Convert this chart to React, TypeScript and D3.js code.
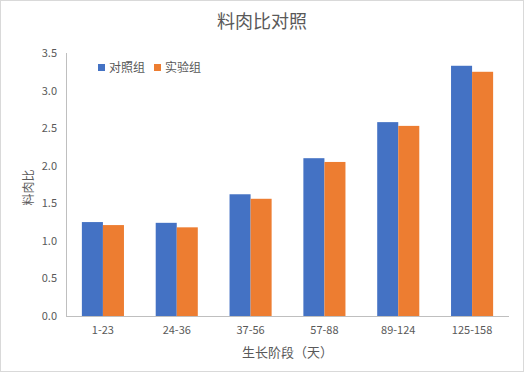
import React from "react";
import * as d3 from "d3";

const categories = ["1-23", "24-36", "37-56", "57-88", "89-124", "125-158"];
const controlValues = [1.25, 1.24, 1.62, 2.1, 2.58, 3.33];
const testValues = [1.21, 1.18, 1.56, 2.05, 2.53, 3.25];
const seriesNames = ["对照组", "实验组"];
const yTicks = [0, 0.5, 1, 1.5, 2, 2.5, 3, 3.5];

const W = 524;
const H = 372;
const left = 66;
const right = 509;
const top = 53;
const bottom = 316;
const colors = ["#4472C4", "#ED7D31"];
const font = "'Noto Sans CJK SC', 'Microsoft YaHei', sans-serif";

export default function App() {
  const x = d3.scaleBand<string>().domain(categories).range([left, right]).paddingInner(0.43).paddingOuter(0.215);
  const y = d3.scaleLinear().domain([0, 3.5]).range([bottom, top]);
  const inner = d3.scaleBand<number>().domain([0, 1]).range([0, x.bandwidth()]);
  const series = [controlValues, testValues];
  return (
    <svg width={W} height={H} style={{ position: "absolute", left: 0, top: 0 }} fontFamily={font}>
      <rect x={0.5} y={0.5} width={W - 1} height={H - 1} fill="#fff" stroke="#d9d9d9" />
      <text x={262} y={28} textAnchor="middle" fontSize={18} fill="#595959">料肉比对照</text>
      {series.map((vals, si) =>
        vals.map((v, i) => (
          <rect
            key={`${si}-${i}`}
            x={(x(categories[i]) as number) + (inner(si) as number)}
            y={y(v)}
            width={inner.bandwidth()}
            height={bottom - y(v)}
            fill={colors[si]}
          />
        ))
      )}
      <line x1={left + 0.5} x2={left + 0.5} y1={top} y2={bottom} stroke="#bfbfbf" />
      <line x1={left} x2={right} y1={bottom + 0.5} y2={bottom + 0.5} stroke="#bfbfbf" />
      {yTicks.map((t) => (
        <text key={t} x={57} y={y(t) + 4} textAnchor="end" fontSize={11} fill="#595959">
          {t.toFixed(1)}
        </text>
      ))}
      {categories.map((c) => (
        <text key={c} x={(x(c) as number) + x.bandwidth() / 2} y={334} textAnchor="middle" fontSize={11} fill="#595959">
          {c}
        </text>
      ))}
      <text x={(left + right) / 2} y={357} textAnchor="middle" fontSize={13} fill="#595959">生长阶段（天）</text>
      <text transform={`translate(33,${(top + bottom) / 2 + 3}) rotate(-90)`} textAnchor="middle" fontSize={12} fill="#595959">料肉比</text>
      {seriesNames.map((n, i) => (
        <g key={n} transform={`translate(${98 + i * 56},0)`}>
          <rect x={0} y={64} width={7} height={7} fill={colors[i]} />
          <text x={11} y={72} fontSize={12} fill="#595959">{n}</text>
        </g>
      ))}
    </svg>
  );
}
